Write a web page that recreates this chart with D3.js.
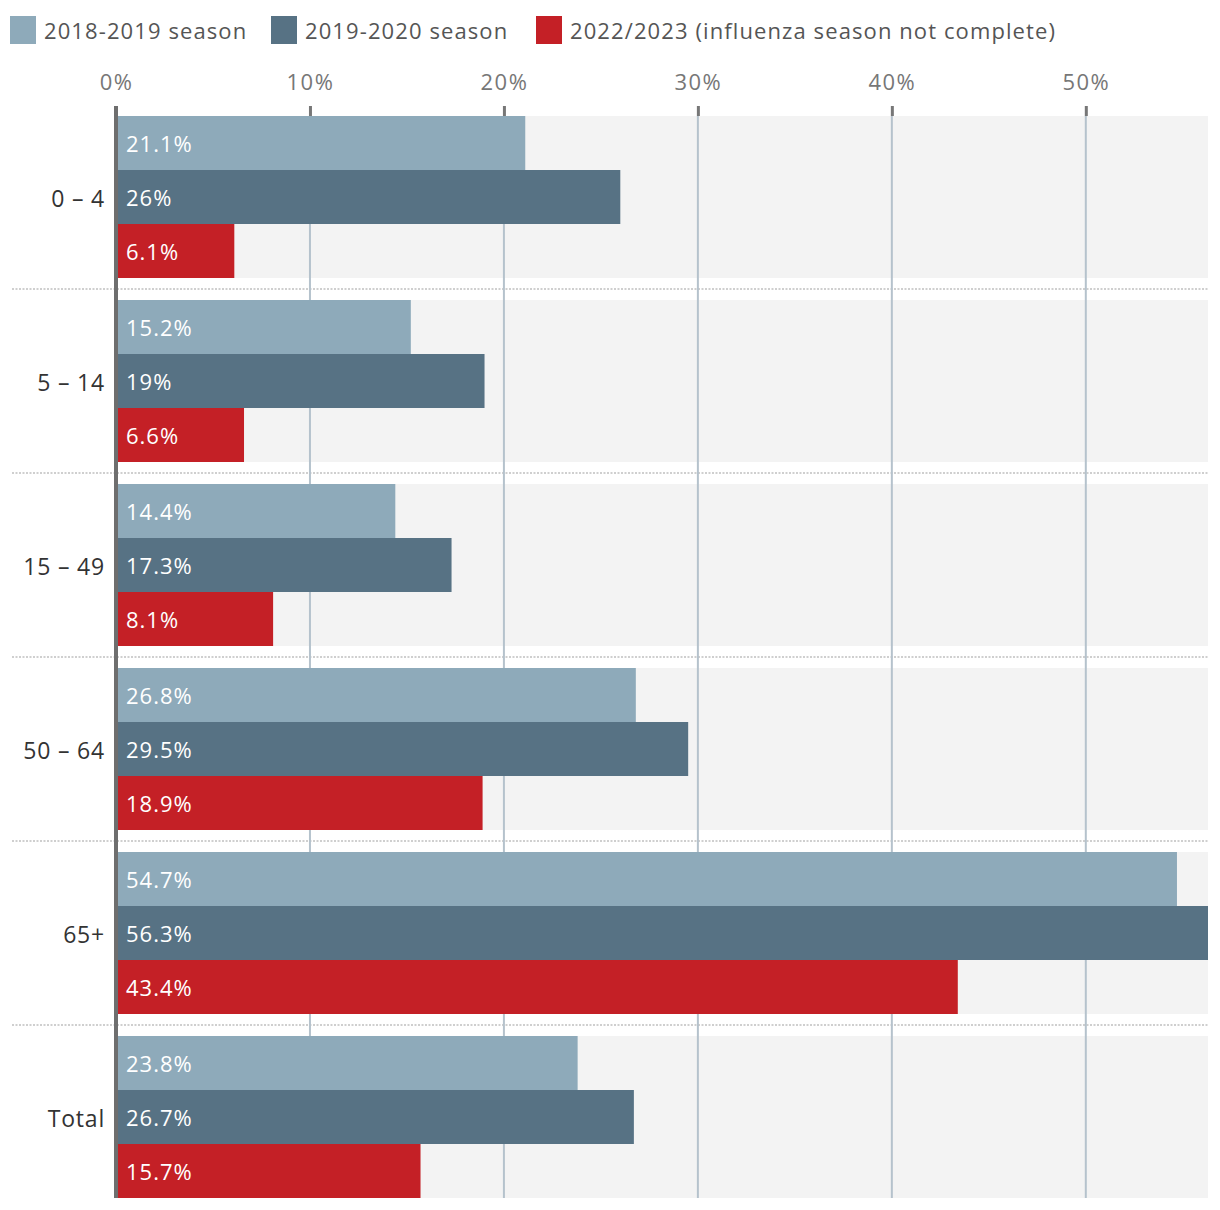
<!DOCTYPE html>
<html><head><meta charset="utf-8">
<script src="https://cdn.jsdelivr.net/npm/d3@7"></script>
<style>body{margin:0;background:#fff;} svg{display:block;font-family:"Open Sans",sans-serif;}</style>
</head><body>
<svg id="c" width="1220" height="1210"></svg>
<script>
const categories = ["0 – 4","5 – 14","15 – 49","50 – 64","65+","Total"];
const seriesNames = ["2018-2019 season","2019-2020 season","2022/2023 (influenza season not complete)"];
const s2018 = [21.1,15.2,14.4,26.8,54.7,23.8];
const s2019 = [26,19,17.3,29.5,56.3,26.7];
const s2022 = [6.1,6.6,8.1,18.9,43.4,15.7];
const tickValues = [0,10,20,30,40,50];
const colors = ["#8eaaba","#577284","#c42026"];

const seriesValues = [s2018,s2019,s2022];
const svg = d3.select("#c");
const x = d3.scaleLinear().domain([0,56.3]).range([116,1208]);
const y = d3.scaleBand().domain(categories).range([116,1198]).paddingInner(22/184).paddingOuter(0);
const yi = d3.scaleBand().domain(d3.range(3)).range([0,y.bandwidth()]);

// backgrounds
svg.append("g").selectAll("rect").data(categories).join("rect")
  .attr("x",x(0)).attr("y",d=>y(d)).attr("width",x.range()[1]-x(0)).attr("height",y.bandwidth())
  .attr("fill","#f3f3f3");

// separators
const seps = categories.slice(1).map(c=>y(c)-y.step()*y.paddingInner()/2);
svg.append("g").selectAll("line").data(seps).join("line")
  .attr("x1",12).attr("x2",1208).attr("y1",d=>d).attr("y2",d=>d)
  .attr("stroke","#cfcfcf").attr("stroke-width",2).attr("stroke-dasharray","2,1.5");

// gridlines
svg.append("g").selectAll("line").data(tickValues.filter(t=>t>0)).join("line")
  .attr("x1",d=>x(d)).attr("x2",d=>x(d)).attr("y1",116).attr("y2",1198)
  .attr("stroke","#b5c2cc").attr("stroke-width",2);

// bars
const rows = [];
categories.forEach((c,ci)=>seriesValues.forEach((s,si)=>rows.push({c,si,v:s[ci]})));
svg.append("g").selectAll("rect").data(rows).join("rect")
  .attr("x",x(0)).attr("y",d=>y(d.c)+yi(d.si)).attr("width",d=>x(d.v)-x(0)).attr("height",yi.bandwidth())
  .attr("fill",d=>colors[d.si]);
svg.append("g").selectAll("text").data(rows).join("text")
  .attr("x",126).attr("y",d=>y(d.c)+yi(d.si)+yi.bandwidth()/2+9)
  .attr("fill","#fff").attr("font-size",22).attr("letter-spacing",1).text(d=>d.v+"%");

// x axis top
const xa = svg.append("g").attr("transform","translate(0,116)")
  .call(d3.axisTop(x).tickValues(tickValues).tickFormat(d=>d+"%").tickSize(10).tickPadding(16));
xa.select(".domain").remove();
xa.selectAll(".tick line").attr("stroke","#777").attr("stroke-width",3);
xa.selectAll(".tick text").attr("fill","#777").attr("font-size",22).attr("letter-spacing",1.5).attr("font-family","Open Sans");

// y axis line
svg.append("line").attr("x1",116).attr("x2",116).attr("y1",106).attr("y2",1198)
  .attr("stroke","#6e6e6e").attr("stroke-width",4);

// category labels
const ya = svg.append("g").attr("transform","translate(105,0)")
  .call(d3.axisLeft(y).tickSize(0).tickPadding(0));
ya.select(".domain").remove();
ya.selectAll(".tick text").attr("fill","#333").attr("font-size",23).attr("letter-spacing",0.8).attr("dy","0.45em").attr("font-family","Open Sans");

// legend
const legX = [10,271,536];
const lg = svg.append("g").selectAll("g").data(seriesNames).join("g")
  .attr("transform",(d,i)=>`translate(${legX[i]},16)`);
lg.append("rect").attr("width",26).attr("height",28).attr("fill",(d,i)=>colors[i]);
lg.append("text").attr("x",34).attr("y",23).attr("fill","#555").attr("font-size",22).attr("letter-spacing",1.1).text(d=>d);
</script>
</body></html>
